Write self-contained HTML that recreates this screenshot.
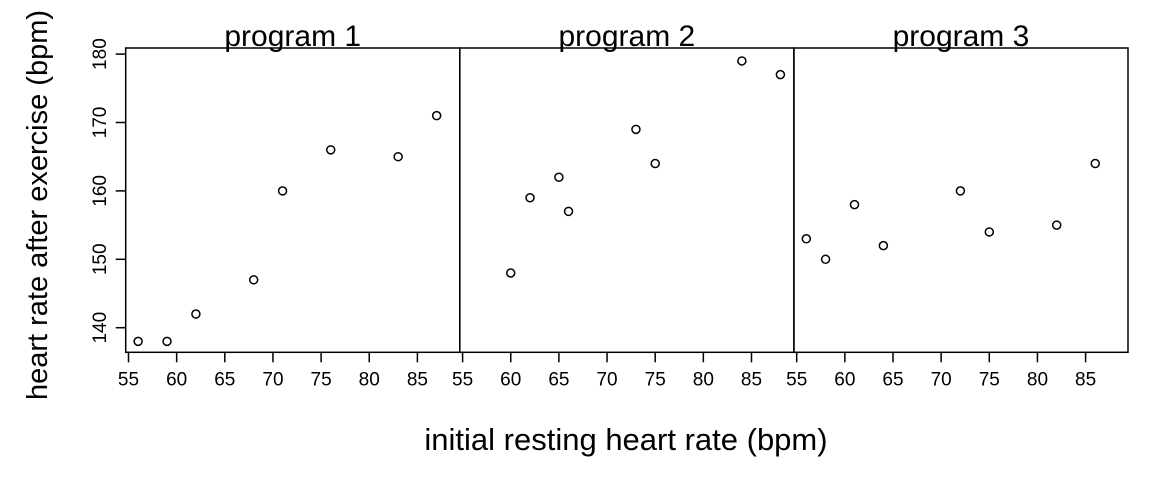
<!DOCTYPE html>
<html><head><meta charset="utf-8"><style>
body{margin:0;background:#fff}
svg{display:block;font-family:"Liberation Sans",Arial,sans-serif}
</style></head><body>
<svg id="c" width="1152" height="480"></svg>
<script>
const panels = ["program 1","program 2","program 3"];
const xs1 = [56,59,62,68,71,76,83,87];
const ys1 = [138,138,142,147,160,166,165,171];
const xs2 = [60,62,65,66,73,75,84,88];
const ys2 = [148,159,162,157,169,164,179,177];
const xs3 = [56,58,61,64,72,75,82,86];
const ys3 = [153,150,158,152,160,154,155,164];
const xTicks = [55,60,65,70,75,80,85];
const yTicks = [140,150,160,170,180];
const series = [[xs1,ys1],[xs2,ys2],[xs3,ys3]];

const svg = document.getElementById('c');
const NS = 'http://www.w3.org/2000/svg';
function mk(t, a){const e=document.createElementNS(NS,t);for(const k in a)e.setAttribute(k,a[k]);svg.appendChild(e);return e;}
const L=125.7, W=334.1, T=48, B=352.3;
function xp(p,v){return L+p*W+2.8+(v-55)*9.63;}
function yp(v){return 327.7-(v-140)*6.84;}

for(let p=0;p<3;p++){
  const r=mk('rect',{x:L+p*W,y:T,width:W,height:B-T,fill:'none',stroke:'#000','stroke-width':1.5});
  
  
  const t=mk('text',{x:L+p*W+W/2,y:46,'text-anchor':'middle','font-size':30});
  t.textContent=panels[p];
  
  
  xTicks.forEach(v=>{
    const x=xp(p,v);
    const l=mk('line',{x1:x,x2:x,y1:B,y2:B+10,stroke:'#000','stroke-width':1.5});
    
    
    const tl=mk('text',{x:x,y:B+33,'text-anchor':'middle','font-size':19});
    tl.textContent=v;
    
    
  });
  const [xs,ys]=series[p];
  xs.forEach((v,i)=>{
    const c=mk('circle',{cx:xp(p,v),cy:yp(ys[i]),r:4,fill:'none',stroke:'#000','stroke-width':1.5});
    
    
  });
}
yTicks.forEach(v=>{
  const y=yp(v);
  const l=mk('line',{x1:L-10,x2:L,y1:y,y2:y,stroke:'#000','stroke-width':1.5});
  
  
  const t=mk('text',{x:0,y:0,'text-anchor':'middle','font-size':19,transform:`translate(106,${y}) rotate(-90)`});
  t.textContent=v;
  
  
});
const xt=mk('text',{x:626,y:450,'text-anchor':'middle','font-size':31});
xt.textContent='initial resting heart rate (bpm)';


const yt=mk('text',{x:0,y:0,'text-anchor':'middle','font-size':29,transform:'translate(47,205) rotate(-90)'});
yt.textContent='heart rate after exercise (bpm)';


</script>
</body></html>
